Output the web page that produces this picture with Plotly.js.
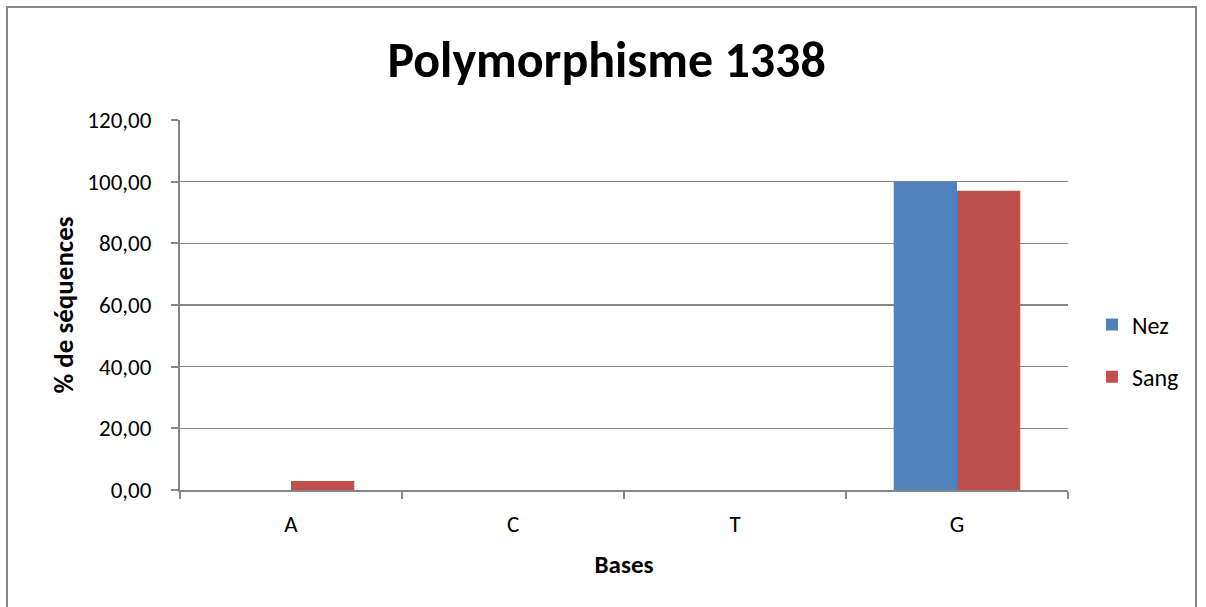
<!DOCTYPE html>
<html><head><meta charset="utf-8">
<script src="https://cdn.plot.ly/plotly-3.0.1.min.js"></script>
<style>
html,body{margin:0;padding:0;background:#fff;overflow:hidden}
#wrap{position:relative;width:1206px;height:607px}
#frame{position:absolute;left:6px;top:6px;width:1191px;height:620px;border:2px solid #868686;box-sizing:border-box;pointer-events:none}
#chart{position:absolute;left:0;top:0;width:1206px;height:607px}
</style></head>
<body><div id="wrap"><div id="chart"></div><div id="frame"></div></div>
<script>
const categories = ["A", "C", "T", "G"];
const nez = [0, 0, 0, 100];
const sang = [2.94, 0, 0, 97.06];
const seriesNames = ["Nez", "Sang"];
const font = "Calibri, Carlito, Lato, 'Open Sans', sans-serif";

const traces = [
  {type: "bar", name: seriesNames[0], legendgroup: "g1", x: categories, y: nez, marker: {color: "#4f81bd"}},
  {type: "bar", name: seriesNames[1], legendgroup: "g2", x: categories, y: sang, marker: {color: "#c0504d"}}
];
const layout = {
  width: 1206, height: 607,
  margin: {l: 180, r: 138, t: 120, b: 117},
  paper_bgcolor: "#fff", plot_bgcolor: "#fff",
  separators: ", ",
  font: {family: font, color: "#000", size: 23},
  title: {text: "<b>Polymorphisme 1338</b>", font: {size: 50, family: font, color: "#000"}, x: 0.503, xanchor: "center", y: 0.902, yanchor: "middle"},
  barmode: "group", bargap: 0.43, bargroupgap: 0,
  xaxis: {
    type: "category", showline: true, linecolor: "#868686", linewidth: 2,
    ticks: "outside", tickson: "boundaries", ticklen: 7, tickcolor: "#868686", tickwidth: 2,
    showgrid: false, tickfont: {size: 23}, ticklabelstandoff: 12,
    title: {text: "<b>Bases</b>", font: {size: 25}, standoff: 19}
  },
  yaxis: {
    range: [0, 120], dtick: 20, tickformat: ".2f",
    showline: true, linecolor: "#868686", linewidth: 2,
    ticks: "outside", ticklen: 7, tickcolor: "#868686", tickwidth: 2,
    showgrid: true, gridcolor: "#868686", gridwidth: 1.5, zeroline: false,
    tickfont: {size: 23}, ticklabelstandoff: 15,
    title: {text: "<b>% de séquences</b>", font: {size: 27}, standoff: 6}
  },
  legend: {x: 1.027, xanchor: "left", y: 0.376, yanchor: "middle", font: {size: 24}, tracegroupgap: 18, itemwidth: 30, traceorder: "grouped"},
  showlegend: true
};
Plotly.newPlot("chart", traces, layout, {displayModeBar: false, staticPlot: true});
</script></body></html>
